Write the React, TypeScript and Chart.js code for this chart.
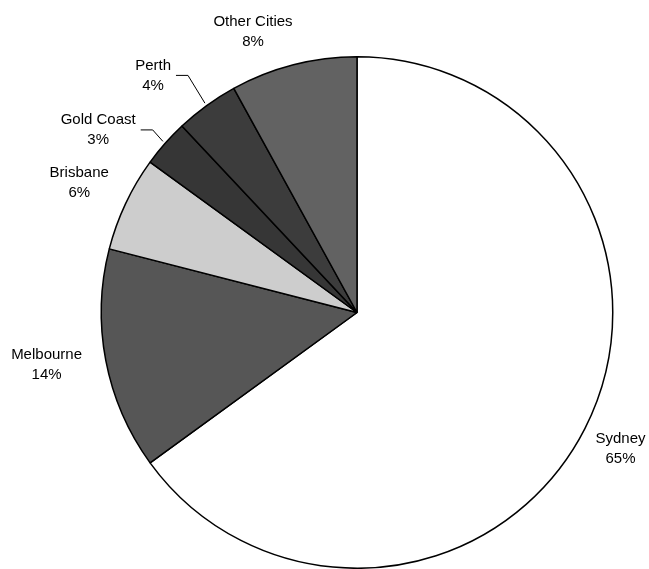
import React, { useEffect, useRef } from "react";
import { Chart, registerables } from "chart.js";

Chart.register(...registerables);

const cities = ["Sydney", "Melbourne", "Brisbane", "Gold Coast", "Perth", "Other Cities"];
const shares = [65, 14, 6, 3, 4, 8];
const sliceColors = ["#ffffff", "#565656", "#cdcdcd", "#363636", "#3c3c3c", "#626262"];
// label placement: angle nudge (deg) and distance beyond pie edge (px); leader lines for small slices
const labelAngleNudge = [0.4, 1.3, -0.1, -6.2, -4.7, -5.9];
const labelGap = [41, 59, 51, 61, 57, 44];
const hasLeader = [false, false, false, true, true, false];

const FONT = "15px 'Liberation Sans', Arial, sans-serif";

const labelPlugin = {
  id: "pieLabels",
  afterDatasetsDraw(chart: any) {
    const ctx = chart.ctx as CanvasRenderingContext2D;
    const meta = chart.getDatasetMeta(0);
    ctx.save();
    ctx.font = FONT;
    ctx.fillStyle = "#000";
    ctx.textAlign = "center";
    ctx.textBaseline = "middle";
    meta.data.forEach((arc: any, i: number) => {
      const { x, y, startAngle, endAngle, outerRadius } = arc.getProps(
        ["x", "y", "startAngle", "endAngle", "outerRadius"],
        true
      );
      const mid = (startAngle + endAngle) / 2;
      const a = mid + (labelAngleNudge[i] * Math.PI) / 180;
      const d = outerRadius + labelGap[i];
      const lx = x + Math.cos(a) * d;
      const ly = y + Math.sin(a) * d;
      const line1 = cities[i];
      const line2 = shares[i] + "%";
      ctx.fillText(line1, lx, ly - 10);
      ctx.fillText(line2, lx, ly + 10);
      if (hasLeader[i]) {
        const w = Math.max(ctx.measureText(line1).width, ctx.measureText(line2).width);
        const sx = lx + w / 2 + 5;
        const ex = x + Math.cos(mid) * (outerRadius + 3);
        const ey = y + Math.sin(mid) * (outerRadius + 3);
        const elbowX = sx + 12;
        ctx.beginPath();
        ctx.strokeStyle = "#000";
        ctx.lineWidth = 1;
        ctx.moveTo(sx, ly);
        ctx.lineTo(elbowX, ly);
        ctx.lineTo(ex, ey);
        ctx.stroke();
      }
    });
    ctx.restore();
  },
};

export default function App() {
  const ref = useRef<HTMLCanvasElement>(null);
  useEffect(() => {
    document.body.style.margin = "0";
    const chart = new Chart(ref.current!, {
      type: "pie",
      data: {
        labels: cities,
        datasets: [
          {
            data: shares,
            backgroundColor: sliceColors,
            borderColor: "#000000",
            borderWidth: 1.5,
          },
        ],
      },
      options: {
        animation: false,
        responsive: false,
        maintainAspectRatio: false,
        layout: { padding: { left: 100, right: 35, top: 56, bottom: -1 } },
        plugins: {
          legend: { display: false },
          tooltip: { enabled: false },
        },
      },
      plugins: [labelPlugin],
    });
    return () => chart.destroy();
  }, []);
  return (
    <div style={{ width: 649, height: 569, background: "#fff" }}>
      <canvas ref={ref} width={649} height={569} style={{ display: "block" }} />
    </div>
  );
}
